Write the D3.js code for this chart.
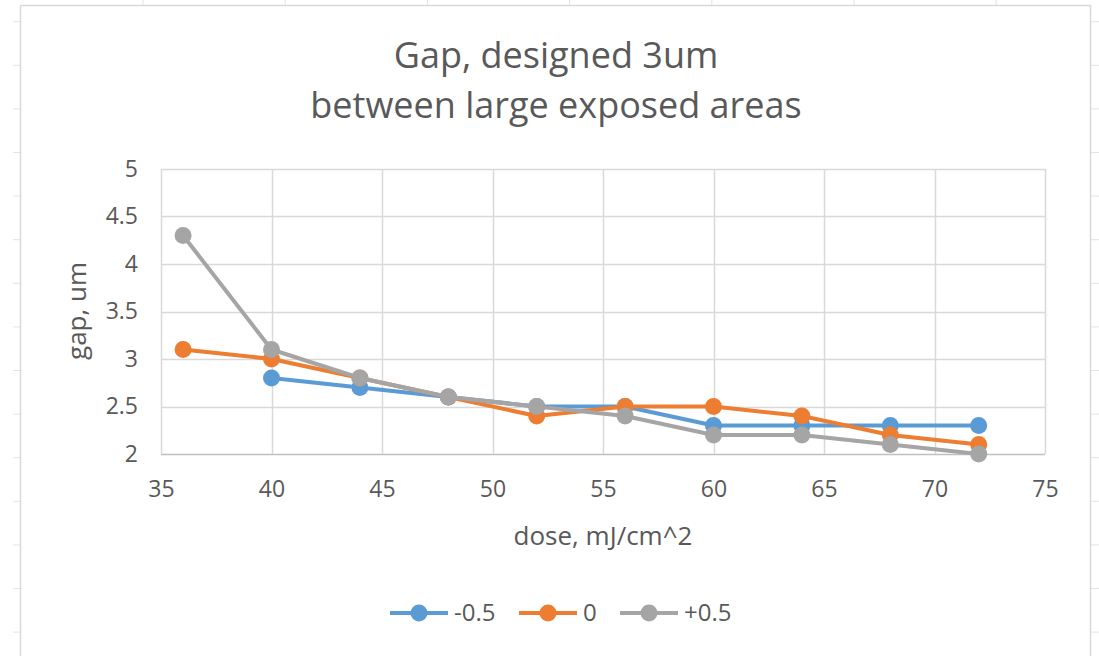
<!DOCTYPE html>
<html>
<head>
<meta charset="utf-8">
<script src="https://cdn.jsdelivr.net/npm/d3@7"></script>
<style>
  body { margin: 0; background: #fff; }
  text { font-family: "Open Sans", sans-serif; fill: #595959; }
</style>
</head>
<body>
<div class="canvas"></div>
<script>
// data
const doses = [36, 40, 44, 48, 52, 56, 60, 64, 68, 72];
const minusHalf = [null, 2.8, 2.7, 2.6, 2.5, 2.5, 2.3, 2.3, 2.3, 2.3];
const zero = [3.1, 3.0, 2.8, 2.6, 2.4, 2.5, 2.5, 2.4, 2.2, 2.1];
const plusHalf = [4.3, 3.1, 2.8, 2.6, 2.5, 2.4, 2.2, 2.2, 2.1, 2.0];
const seriesNames = ["-0.5", "0", "+0.5"];
const xTicks = [35, 40, 45, 50, 55, 60, 65, 70, 75];
const yTicks = [2, 2.5, 3, 3.5, 4, 4.5, 5];

const colors = ["#5B9BD5", "#ED7D31", "#A5A5A5"];
const series = [minusHalf, zero, plusHalf].map((vals, i) => ({
  name: seriesNames[i],
  color: colors[i],
  points: doses.map((d, j) => ({ x: d, y: vals[j] })).filter((p) => p.y !== null),
}));

const w = 1099;
const h = 656;
const margin = { top: 169, right: 54, bottom: 202, left: 161 };
const graphWidth = w - margin.left - margin.right;
const graphHeight = h - margin.top - margin.bottom;

const svg = d3.select(".canvas").append("svg").attr("width", w).attr("height", h);

// spreadsheet cell lines behind the chart
const sheet = svg.append("g").attr("stroke", "#e3e3e3").attr("stroke-width", 1);
d3.range(143, 1000, 142.2).forEach((x) => {
  sheet.append("line").attr("x1", x).attr("x2", x).attr("y1", 0).attr("y2", 5);
});
d3.range(21.7, h, 43.6).forEach((y) => {
  sheet.append("line").attr("x1", 13).attr("x2", 21).attr("y1", y).attr("y2", y);
  sheet.append("line").attr("x1", 1091).attr("x2", 1099).attr("y1", y).attr("y2", y);
});

// chart frame
svg
  .append("rect")
  .attr("x", 20.5)
  .attr("y", 5.5)
  .attr("width", 1070)
  .attr("height", 660)
  .attr("fill", "#fff")
  .attr("stroke", "#d9d9d9")
  .attr("stroke-width", 1.5);

// title
svg
  .append("text")
  .attr("x", 556)
  .attr("y", 68)
  .attr("text-anchor", "middle")
  .style("font-size", "36px")
  .text("Gap, designed 3um");
svg
  .append("text")
  .attr("x", 556)
  .attr("y", 118)
  .attr("text-anchor", "middle")
  .style("font-size", "36px")
  .text("between large exposed areas");

const graph = svg.append("g").attr("transform", `translate(${margin.left}, ${margin.top})`);

const xScale = d3.scaleLinear().domain([35, 75]).range([0, graphWidth]);
const yScale = d3.scaleLinear().domain([2, 5]).range([graphHeight, 0]);

// gridlines
graph
  .append("g")
  .selectAll("line")
  .data(yTicks)
  .join("line")
  .attr("x1", 0)
  .attr("x2", graphWidth)
  .attr("y1", (d) => Math.round(yScale(d)) + 0.5)
  .attr("y2", (d) => Math.round(yScale(d)) + 0.5)
  .attr("stroke", (d) => (d === 2 ? "#bfbfbf" : "#d9d9d9"))
  .attr("stroke-width", 1.5);
graph
  .append("g")
  .selectAll("line")
  .data(xTicks)
  .join("line")
  .attr("x1", (d) => Math.round(xScale(d)) + 0.5)
  .attr("x2", (d) => Math.round(xScale(d)) + 0.5)
  .attr("y1", 0)
  .attr("y2", graphHeight)
  .attr("stroke", "#d9d9d9")
  .attr("stroke-width", 1.5);

// axes (labels only)
const xAxis = d3.axisBottom(xScale).tickValues(xTicks).tickSize(0).tickPadding(27);
const yAxis = d3
  .axisLeft(yScale)
  .tickValues(yTicks)
  .tickFormat((d) => d)
  .tickSize(0)
  .tickPadding(23);

const gx = graph.append("g").attr("transform", `translate(0, ${graphHeight})`).call(xAxis);
const gy = graph.append("g").call(yAxis);
[gx, gy].forEach((g) => {
  g.select(".domain").remove();
  g.selectAll("text").style("font-size", "23px").style("font-family", "'Open Sans', sans-serif").attr("fill", "#595959");
});

// axis titles
svg
  .append("text")
  .attr("transform", "translate(86, 311) rotate(-90)")
  .attr("text-anchor", "middle")
  .style("font-size", "26px")
  .text("gap, um");
svg
  .append("text")
  .attr("x", 603)
  .attr("y", 545)
  .attr("text-anchor", "middle")
  .style("font-size", "26px")
  .text("dose, mJ/cm^2");

// lines and markers
const line = d3
  .line()
  .x((d) => xScale(d.x))
  .y((d) => yScale(d.y));

series.forEach((s) => {
  graph
    .append("path")
    .datum(s.points)
    .attr("fill", "none")
    .attr("stroke", s.color)
    .attr("stroke-width", 4)
    .attr("stroke-linejoin", "round")
    .attr("d", line);
  graph
    .append("g")
    .selectAll("circle")
    .data(s.points)
    .join("circle")
    .attr("cx", (d) => xScale(d.x))
    .attr("cy", (d) => yScale(d.y))
    .attr("r", 8.5)
    .attr("fill", s.color);
});

// legend
const legendX = [390, 519, 620];
const legend = svg.append("g").attr("transform", "translate(0, 613)");
series.forEach((s, i) => {
  const g = legend.append("g").attr("transform", `translate(${legendX[i]}, 0)`);
  g.append("line").attr("x1", 0).attr("x2", 58).attr("stroke", s.color).attr("stroke-width", 4);
  g.append("circle").attr("cx", 29).attr("r", 8.5).attr("fill", s.color);
  g.append("text")
    .attr("x", 64)
    .attr("dy", "0.35em")
    .style("font-size", "24px")
    .text(s.name);
});
</script>
</body>
</html>
